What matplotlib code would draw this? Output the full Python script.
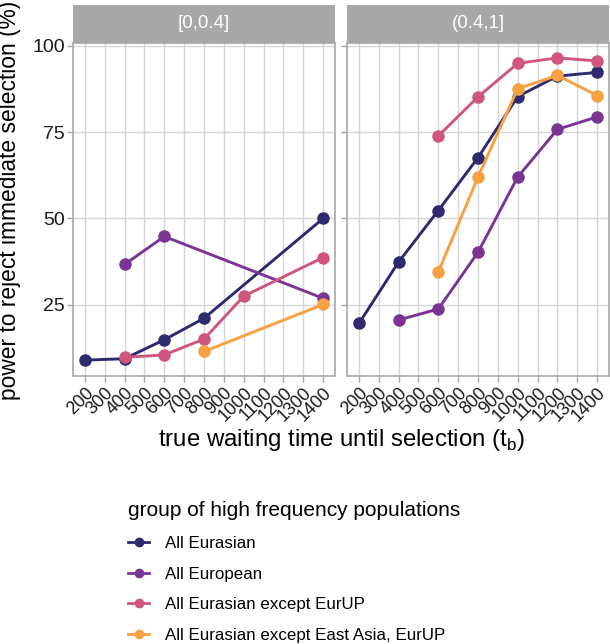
import matplotlib.pyplot as plt
from matplotlib.lines import Line2D

plt.rcParams["font.family"] = ["Liberation Sans", "DejaVu Sans"]

# data
panels = ["[0,0.4]", "(0.4,1]"]
groups = [
    "All Eurasian",
    "All European",
    "All Eurasian except EurUP",
    "All Eurasian except East Asia, EurUP",
]
colors = ["#2E2A6E", "#7B3494", "#D1567D", "#F7A143"]

left_x = {
    "All Eurasian": [200, 400, 600, 800, 1400],
    "All European": [400, 600, 1400],
    "All Eurasian except EurUP": [400, 600, 800, 1000, 1400],
    "All Eurasian except East Asia, EurUP": [800, 1400],
}
left_y = {
    "All Eurasian": [9.0, 9.4, 14.9, 21.1, 50.0],
    "All European": [36.7, 44.8, 26.9],
    "All Eurasian except EurUP": [9.8, 10.5, 15.1, 27.5, 38.7],
    "All Eurasian except East Asia, EurUP": [11.5, 25.1],
}
right_x = {
    "All Eurasian": [200, 400, 600, 800, 1000, 1200, 1400],
    "All European": [400, 600, 800, 1000, 1200, 1400],
    "All Eurasian except EurUP": [600, 800, 1000, 1200, 1400],
    "All Eurasian except East Asia, EurUP": [600, 800, 1000, 1200, 1400],
}
right_y = {
    "All Eurasian": [19.6, 37.4, 52.3, 67.6, 85.3, 91.2, 92.3],
    "All European": [20.6, 23.8, 40.2, 62.0, 75.8, 79.4],
    "All Eurasian except EurUP": [73.9, 85.2, 94.9, 96.5, 95.6],
    "All Eurasian except East Asia, EurUP": [34.5, 62.0, 87.6, 91.4, 85.6],
}

x_breaks = list(range(200, 1500, 100))
y_breaks = [25, 50, 75, 100]

W, H = 610, 644
fig = plt.figure(figsize=(W / 100, H / 100), dpi=100)

panel_left = [73, 347]
panel_w = 262
panel_top, panel_bot = 43, 376
strip_top = 5

data_x = [left_x, right_x]
data_y = [left_y, right_y]

grid_col = "#D6D6D6"
border_col = "#A8A8A8"

for i, name in enumerate(panels):
    ax = fig.add_axes([
        panel_left[i] / W,
        1 - panel_bot / H,
        panel_w / W,
        (panel_bot - panel_top) / H,
    ])
    for g, c in zip(groups, colors):
        ax.plot(data_x[i][g], data_y[i][g], color=c, lw=2.1, marker="o",
                ms=8, zorder=3, clip_on=False)
    ax.set_xlim(140, 1460)
    ax.set_ylim(4.4, 100.8)
    ax.set_xticks(x_breaks)
    ax.set_xticklabels([str(v) for v in x_breaks], rotation=45, ha="right",
                       rotation_mode="anchor", fontsize=13, color="#1a1a1a")
    ax.set_yticks(y_breaks)
    if i == 0:
        ax.set_yticklabels([str(v) for v in y_breaks], fontsize=14, color="#1a1a1a")
    else:
        ax.set_yticklabels([])
        ax.tick_params(axis="y", length=0)
    ax.grid(True, color=grid_col, lw=1.0, zorder=0)
    ax.set_axisbelow(True)
    for s in ax.spines.values():
        s.set_color(border_col)
        s.set_linewidth(1.2)
    ax.tick_params(axis="both", color=border_col, length=4, width=1.0, pad=2)

    # facet strip
    sax = fig.add_axes([
        panel_left[i] / W,
        1 - panel_top / H,
        panel_w / W,
        (panel_top - strip_top) / H,
    ])
    sax.set_facecolor("#A6A8AB")
    sax.set_xticks([])
    sax.set_yticks([])
    for s in sax.spines.values():
        s.set_visible(False)
    sax.text(0.5, 0.5, name, color="white", fontsize=13.5,
             ha="center", va="center", transform=sax.transAxes)

fig.text(10 / W, 1 - 200 / H, "power to reject immediate selection (%)",
         rotation=90, ha="center", va="center", fontsize=16.4, color="black")
fig.text(341 / W, 1 - 440 / H, "true waiting time until selection (t$_\\mathregular{b}$)",
         ha="center", va="center", fontsize=17.3, color="black")

handles = [Line2D([], [], color=c, lw=2.0, marker="o", ms=6) for c in colors]
leg = fig.legend(handles, groups, title="group of high frequency populations",
                 loc="upper left", bbox_to_anchor=(120 / W, 1 - 493 / H),
                 frameon=False, fontsize=12.2, title_fontsize=15,
                 handlelength=1.2, handletextpad=0.95, labelspacing=0.92,
                 alignment="left", borderpad=0)

fig.savefig("out.png", dpi=100)
